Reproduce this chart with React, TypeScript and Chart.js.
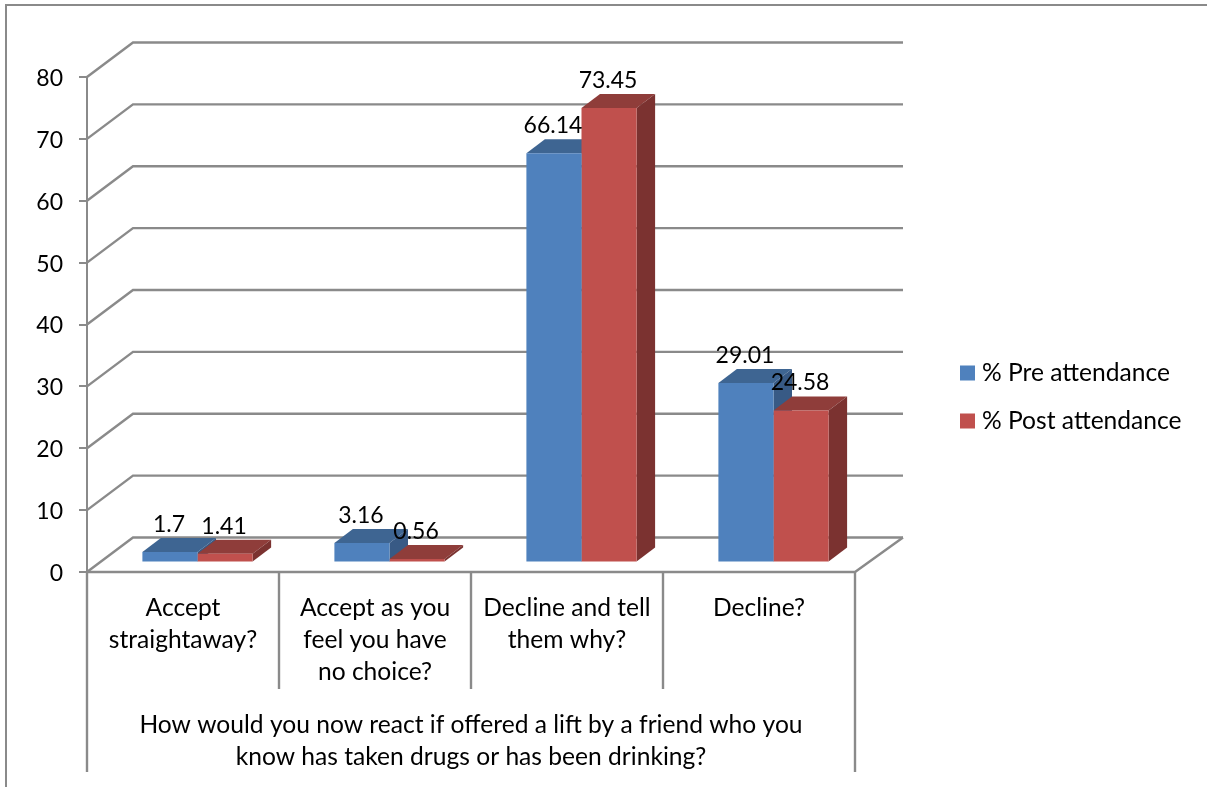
import React, { useEffect, useRef } from "react";
import { Chart, registerables } from "chart.js";

Chart.register(...registerables);

const categories = [
  ["Accept", "straightaway?"],
  ["Accept as you", "feel you have", "no choice?"],
  ["Decline and tell", "them why?"],
  ["Decline?"],
];
const preAttendance = [1.7, 3.16, 66.14, 29.01];
const postAttendance = [1.41, 0.56, 73.45, 24.58];
const seriesNames = ["% Pre attendance", "% Post attendance"];
const groupLabel = [
  "How would you now react if offered a lift by a friend who you",
  "know has taken drugs or has been drinking?",
];
const yTicks = [0, 10, 20, 30, 40, 50, 60, 70, 80];

const FONT = "Lato";
const TEXT_SIZE = 24.6;
const NUM_SIZE = 23;
const GRID = "#8a8a8a";
const FRONT = ["#4f81bd", "#c0504d"];
const TOP = ["#3e6592", "#8f3d3a"];
const SIDE = ["#385a85", "#7b3230"];
const WALL_DX = 46;
const WALL_DY = -34.5;
const BAR_DX = 14.5;
const BAR_DY = -9.5;
const DEPTH_DX = 18.5;
const DEPTH_DY = -14;

const poly = (ctx: CanvasRenderingContext2D, pts: number[][], fill?: string) => {
  ctx.beginPath();
  pts.forEach(([x, y], i) => (i ? ctx.lineTo(x, y) : ctx.moveTo(x, y)));
  if (fill) {
    ctx.closePath();
    ctx.fillStyle = fill;
    ctx.fill();
  } else {
    ctx.stroke();
  }
};

const chart3d = {
  id: "chart3d",
  beforeDraw(chart: any) {
    const ctx = chart.ctx;
    ctx.save();
    ctx.fillStyle = "#ffffff";
    ctx.fillRect(0, 0, chart.width, chart.height);
    ctx.strokeStyle = GRID;
    ctx.lineWidth = 2;
    poly(ctx, [[6, 787], [6, 5], [1207, 5]]);
    ctx.restore();
  },
  beforeDatasetsDraw(chart: any) {
    const { ctx, scales, chartArea } = chart;
    const y = scales.y;
    const x = scales.x;
    const left = chartArea.left;
    const right = chartArea.right;
    ctx.save();
    ctx.strokeStyle = GRID;
    ctx.lineWidth = 2.4;
    yTicks.forEach((v) => {
      const py = y.getPixelForValue(v);
      poly(ctx, [[left, py], [left + WALL_DX, py + WALL_DY], [right + WALL_DX + 2, py + WALL_DY]]);
    });
    const y0 = y.getPixelForValue(0);
    poly(ctx, [[left, y0], [right, y0], [right + WALL_DX + 2, y0 + WALL_DY]]);

    // category separators below the floor
    categories.forEach((_, i) => {
      const cx = x.getPixelForTick(i);
      const half = (x.getPixelForTick(1) - x.getPixelForTick(0)) / 2;
      poly(ctx, [[cx - half, y0], [cx - half, i === 0 ? 772 : 689]]);
      if (i === categories.length - 1) poly(ctx, [[cx + half, y0], [cx + half, 772]]);
    });

    // top and side faces of the columns
    chart.data.datasets.forEach((_: any, d: number) => {
      chart.getDatasetMeta(d).data.forEach((bar: any) => {
        const l = bar.x - bar.width / 2 + BAR_DX;
        const r = bar.x + bar.width / 2 + BAR_DX;
        const t = bar.y + BAR_DY;
        const b = bar.base + BAR_DY;
        poly(ctx, [[l, t], [l + DEPTH_DX, t + DEPTH_DY], [r + DEPTH_DX, t + DEPTH_DY], [r, t]], TOP[d]);
        poly(ctx, [[r, t], [r + DEPTH_DX, t + DEPTH_DY], [r + DEPTH_DX, b + DEPTH_DY], [r, b]], SIDE[d]);
      });
    });
    ctx.restore();
    ctx.save();
    ctx.translate(BAR_DX, BAR_DY);
  },
  afterDatasetsDraw(chart: any) {
    const ctx = chart.ctx;
    ctx.restore();
    ctx.save();
    ctx.font = `${NUM_SIZE}px ${FONT}`;
    ctx.fillStyle = "#000000";
    ctx.textAlign = "center";
    ctx.textBaseline = "middle";
    chart.data.datasets.forEach((ds: any, d: number) => {
      chart.getDatasetMeta(d).data.forEach((bar: any, i: number) => {
        ctx.fillText(String(ds.data[i]), bar.x + BAR_DX - 1, bar.y + BAR_DY - 27.5);
      });
    });

    // legend
    ctx.font = `${TEXT_SIZE}px ${FONT}`;
    ctx.textAlign = "left";
    seriesNames.forEach((name, d) => {
      const cy = 373 + d * 48;
      ctx.fillStyle = FRONT[d];
      ctx.fillRect(960, cy - 7.5, 15, 15);
      ctx.fillStyle = "#000000";
      ctx.fillText(name, 982, cy + 0.5);
    });
    ctx.restore();
  },
};

export default function App() {
  const ref = useRef<HTMLCanvasElement>(null);
  useEffect(() => {
    const chart = new Chart(ref.current!, {
      type: "bar",
      data: {
        labels: categories,
        datasets: [
          { label: seriesNames[0], data: preAttendance, backgroundColor: FRONT[0], borderWidth: 0 },
          { label: seriesNames[1], data: postAttendance, backgroundColor: FRONT[1], borderWidth: 0 },
        ],
      },
      options: {
        responsive: false,
        animation: false,
        layout: { padding: { top: 77, right: 352, left: 0, bottom: 0 } },
        categoryPercentage: 0.574,
        barPercentage: 1,
        plugins: { legend: { display: false }, tooltip: { enabled: false } },
        scales: {
          x: {
            type: "category",
            border: { display: false },
            grid: { display: false },
            ticks: {
              autoSkip: false,
              maxRotation: 0,
              minRotation: 0,
              padding: 12,
              color: "#000000",
              font: { family: FONT, size: TEXT_SIZE, lineHeight: 32 / TEXT_SIZE },
            },
            title: {
              display: true,
              text: groupLabel,
              color: "#000000",
              font: { family: FONT, size: TEXT_SIZE, lineHeight: 32 / TEXT_SIZE },
              padding: { top: 0, bottom: 14 },
            },
            afterFit(s: any) {
              s.height = 215;
            },
          },
          y: {
            min: 0,
            max: 80,
            afterBuildTicks(s: any) {
              s.ticks = yTicks.map((value) => ({ value }));
            },
            border: { display: true, color: GRID, width: 2 },
            grid: { drawOnChartArea: false, drawTicks: true, tickLength: 8, color: GRID, lineWidth: 2 },
            ticks: {
              padding: 16,
              labelOffset: 1.5,
              color: "#000000",
              font: { family: FONT, size: NUM_SIZE },
            },
            afterFit(s: any) {
              s.width = 87;
            },
          },
        },
      } as any,
      plugins: [chart3d],
    });
    return () => chart.destroy();
  }, []);
  return (
    <div style={{ position: "fixed", left: 0, top: 0 }}>
      <canvas ref={ref} width={1207} height={787} style={{ display: "block" }} />
    </div>
  );
}
